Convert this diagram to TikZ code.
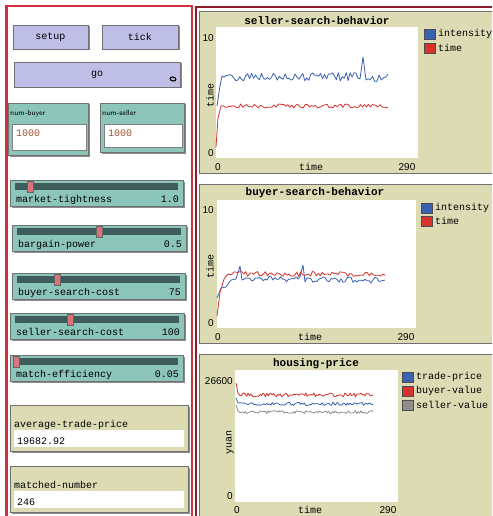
\documentclass[tikz,border=0pt]{standalone}
\usepackage{fontspec}
\setmainfont{Liberation Sans}
\newfontfamily\nlmono{Liberation Mono}
\usetikzlibrary{arrows.meta}
\definecolor{btnface}{HTML}{BEBEE6}
\definecolor{slidface}{HTML}{8CC5B9}
\definecolor{trackcol}{HTML}{3E5C5A}
\definecolor{knobcol}{HTML}{D8747A}
\definecolor{monface}{HTML}{DDDBB4}
\definecolor{framecol}{HTML}{707070}
\definecolor{panelred}{HTML}{D0303C}
\definecolor{darkred}{HTML}{8C1C2C}
\definecolor{plotblue}{HTML}{3A62B0}
\definecolor{plotred}{HTML}{D8322C}
\definecolor{plotgray}{HTML}{8E8E8E}
\definecolor{inputtxt}{HTML}{A0522D}
\tikzstyle{widget}=[draw=framecol,line width=.8pt]
\tikzstyle{shade}=[fill=black!45]
\tikzstyle{btn}=[widget,fill=btnface]
\tikzstyle{sliderbox}=[widget,fill=slidface]
\tikzstyle{monbox}=[widget,fill=monface]
\tikzstyle{plotbox}=[widget,fill=monface]
\tikzstyle{knob}=[draw=black!60,line width=.5pt,fill=knobcol]
\tikzstyle{wtext}=[font=\nlmono\fontsize{10}{12}\selectfont,inner sep=0pt]
\tikzstyle{ptitle}=[font=\nlmono\bfseries\fontsize{11}{13}\selectfont,inner sep=0pt]
\tikzstyle{axnum}=[font=\fontsize{10}{12}\selectfont,inner sep=0pt]
\tikzstyle{smalllab}=[font=\sffamily\fontsize{7.5}{9}\selectfont,inner sep=0pt]
\tikzstyle{legbox}=[draw=black!70,line width=.6pt]
\tikzstyle{data}=[line width=.8pt,line join=round]
\newcommand\nlbutton[5]{%
  \fill[shade] (#1+1.5,#2+1.5) rectangle (#3+1.5,#4+1.5);
  \draw[btn] (#1,#2) rectangle (#3,#4);
  \node[wtext] (#5) at ({(#1+#3)/2},{(#2+#4)/2}) {#5};}
\newcommand\nlinput[5]{%
  \fill[shade] (#1+1.5,#2+1.5) rectangle (#3+1.5,#4+1.5);
  \draw[sliderbox] (#1,#2) rectangle (#3,#4);
  \node[smalllab,anchor=base west] (#5) at (#1+2,#2+12) {#5};
  \draw[white,fill=white,draw=black!50] (#1+4,#2+21) rectangle (#3-2,#4-5);
  \node[wtext,text=inputtxt,anchor=base west] (#5-val) at (#1+8,#2+33) {1000};}
\newcommand\nlslider[6]{%
  \fill[shade] (#1+1.5,#2+1.5) rectangle (#3+1.5,#2+27.5);
  \draw[sliderbox] (#1,#2) rectangle (#3,#2+26);
  \fill[trackcol] (#1+5,#2+3) rectangle (#3-5,#2+10);
  \draw[knob] (#4-3,#2+1.5) rectangle (#4+3,#2+12);
  \node[wtext,anchor=base west] (#5) at (#1+6,#2+22) {#5};
  \node[wtext,anchor=base east] (#5-val) at (#3-4,#2+22) {#6};}
\newcommand\nlmonitor[6]{%
  \fill[shade] (#1+1.5,#2+1.5) rectangle (#3+1.5,#4+1.5);
  \draw[monbox] (#1,#2) rectangle (#3,#4);
  \node[wtext,anchor=base west] (#5) at (#1+4,#2+22) {#5};
  \fill[white] (#1+4,#2+25) rectangle (#3-4,#4-4);
  \node[wtext,anchor=base west] (#5-val) at (#1+7,#2+39) {#6};}
\newcommand\legitem[4]{%
  \draw[legbox,fill=#3] (#1,#2-5) rectangle (#1+11,#2+5);
  \node[wtext,anchor=west] (#4) at (#1+14,#2) {#4};}

\begin{document}
\begin{tikzpicture}[x=1pt,y=-1pt]
\useasboundingbox (0,0) rectangle (492,516);
\clip (0,0) rectangle (492,516);
\pgfmathsetseed{11}
% interface panel
\draw[panelred,line width=2.5pt] (6.5,6) rectangle (192,530);
\nlbutton{13}{25}{88}{49}{setup}
\nlbutton{102}{25}{178}{49}{tick}
\nlbutton{14}{62}{180}{87}{go}
\coordinate (forever) at (173,79);
\draw[line width=1.1pt,-{Stealth[length=2.2pt]}] ([shift={(-3,-1)}]forever) arc[start angle=180,end angle=20,radius=3];
\draw[line width=1.1pt,-{Stealth[length=2.2pt]}] ([shift={(3,1)}]forever) arc[start angle=0,end angle=-160,radius=3];
\nlinput{8}{103}{88}{155}{num-buyer}
\nlinput{100}{103}{184}{152}{num-seller}
\nlslider{10}{180}{183}{30}{market-tightness}{1.0}
\nlslider{12}{225}{186}{99}{bargain-power}{0.5}
\nlslider{12}{273}{185}{57}{buyer-search-cost}{75}
\nlslider{10}{313}{184}{70}{seller-search-cost}{100}
\nlslider{10}{355}{183}{16}{match-efficiency}{0.05}
\nlmonitor{10}{405}{188}{451}{average-trade-price}{19682.92}
\nlmonitor{10}{466}{188}{512}{matched-number}{246}
% plot panel
\draw[darkred,line width=2.5pt] (500,7) -- (196,7) -- (196,530);
% seller-search-behavior
\draw[plotbox] (199,11) rectangle (500,173);
\fill[white] (216,27) rectangle (418,158);
\node[ptitle] (sellertitle) at (317,21) {seller-search-behavior};
\node[axnum,anchor=east] (s-ymax) at (214,38) {10};
\node[axnum,anchor=east] (s-ymin) at (214,153) {0};
\node[axnum] (s-xmin) at (218,167) {0};
\node[wtext] (s-xlab) at (311,167) {time};
\node[axnum] (s-xmax) at (407,167) {290};
\node[wtext,rotate=90] (s-ylab) at (210,95) {time};
\legitem{424}{34}{plotblue}{intensity}
\legitem{424}{48}{plotred}{time}
\draw[data,plotblue] (217,106) -- (220,86) -- (222,76) -- plot[domain=224:360,samples=70] (\x,{77+4.5*rand})
  -- (363,57) -- (366,80) -- plot[domain=368:388,samples=10] (\x,{78+4*rand});
\draw[data,plotred] (216,147) -- (218,118) -- (221,106) -- plot[domain=223:388,samples=85] (\x,{106+2*rand});
% buyer-search-behavior
\draw[plotbox] (199,184) rectangle (500,343);
\fill[white] (217,200) rectangle (416,328);
\node[ptitle] (buyertitle) at (315,193) {buyer-search-behavior};
\node[axnum,anchor=east] (b-ymax) at (214,210) {10};
\node[axnum,anchor=east] (b-ymin) at (214,323) {0};
\node[axnum] (b-xmin) at (218,337) {0};
\node[wtext] (b-xlab) at (310,337) {time};
\node[axnum] (b-xmax) at (406,337) {290};
\node[wtext,rotate=90] (b-ylab) at (210,266) {time};
\legitem{421}{208}{plotblue}{intensity}
\legitem{421}{221}{plotred}{time}
\draw[data,plotblue] (217,298) -- (221,288) -- (226,287) -- (231,280) -- (236,279) -- (240,266) -- (242,280)
  -- plot[domain=244:300,samples=30] (\x,{279+3*rand}) -- (303,265) -- (305,282)
  -- plot[domain=307:385,samples=40] (\x,{280+3*rand});
\draw[data,plotred] (217,316) -- (220,292) -- (224,279) -- (228,274) -- plot[domain=230:385,samples=80] (\x,{274+2.5*rand});
% housing-price
\draw[plotbox] (199,354) rectangle (500,530);
\fill[white] (235,370) rectangle (398,502);
\node[ptitle] (pricetitle) at (316,364) {housing-price};
\node[axnum,anchor=east] (h-ymax) at (233,381) {26600};
\node[axnum,anchor=east] (h-ymin) at (233,496) {0};
\node[axnum] (h-xmin) at (237,510) {0};
\node[wtext] (h-xlab) at (310,510) {time};
\node[axnum] (h-xmax) at (388,510) {290};
\node[wtext,rotate=90] (h-ylab) at (230,442) {yuan};
\legitem{402}{377}{plotblue}{trade-price}
\legitem{402}{391}{plotred}{buyer-value}
\legitem{402}{405}{plotgray}{seller-value}
\draw[data,plotred] (236,383) -- (238,393) -- plot[domain=240:373,samples=100] (\x,{395+2*rand});
\draw[data,plotblue] (236,398) -- (238,403) -- plot[domain=240:373,samples=100] (\x,{404+1.6*rand});
\draw[data,plotgray] (236,405) -- (238,411) -- plot[domain=240:373,samples=100] (\x,{412+1.6*rand});
\end{tikzpicture}
\end{document}
